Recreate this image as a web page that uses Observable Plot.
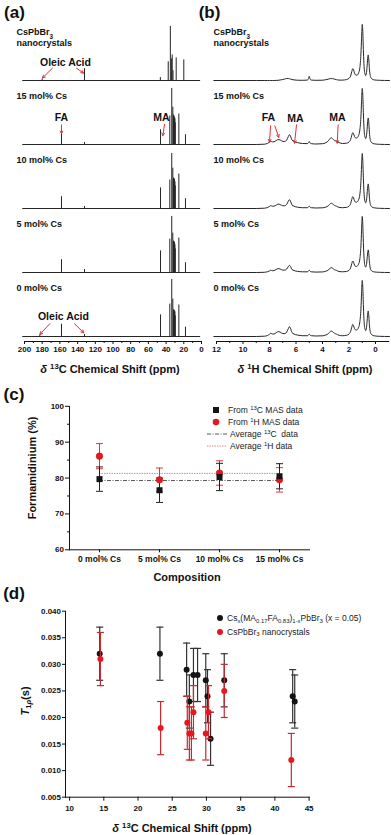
<!DOCTYPE html>
<html><head><meta charset="utf-8">
<script src="https://cdn.jsdelivr.net/npm/d3@7"></script>
<script src="https://cdn.jsdelivr.net/npm/@observablehq/plot@0.6"></script>
<style>
body{margin:0;background:#fff;}
#fig{position:relative;width:391px;height:835px;overflow:hidden;font-family:"Liberation Sans",Arial,Helvetica,sans-serif;color:#111;}
.plotbox{position:absolute;}
.panel{position:absolute;font-weight:bold;font-size:17px;line-height:17px;transform:translate(-50%,-50%);white-space:nowrap;}
.title{position:absolute;font-weight:bold;font-size:11px;line-height:12px;white-space:nowrap;transform:translate(-50%,-50%);}
.title.rot{transform:translate(-50%,-50%) rotate(-90deg);}
.leg{position:absolute;font-size:8.5px;line-height:10px;white-space:nowrap;transform:translateY(-50%);color:#222;}
.sw{position:absolute;overflow:visible;}
sup,sub{font-size:70%;line-height:0;position:relative;vertical-align:baseline;}
sup{top:-0.5em;} sub{top:0.3em;}
</style></head>
<body><div id="fig"></div>
<script>
// ---------------- data: panels (a) and (b) ----------------
const samples = ["CsPbBr3 nanocrystals", "15 mol% Cs", "10 mol% Cs", "5 mol% Cs", "0 mol% Cs"];
const sampleLabels = ["CsPbBr_{3}\nnanocrystals", "15 mol% Cs", "10 mol% Cs", "5 mol% Cs", "0 mol% Cs"];

// 13C spectra: [chemical shift ppm, peak height a.u.]
const c13Range = [202, 1];
const c13Nano = [[180, 1.5], [132.2, 12], [46.5, 3], [37.6, 19], [35.2, 55], [34.0, 22], [33.1, 26], [32.2, 10], [28.6, 23], [20.0, 21]];
const c13Cs15 = [[158.2, 12], [132.2, 2], [46.3, 15], [35.8, 29], [33.6, 57], [32.4, 38], [31.6, 30], [31.2, 29], [30.8, 28], [30.4, 27], [30.0, 26], [29.6, 22], [25.6, 31], [18.1, 10]];
const c13Cs10 = [[158.2, 12], [132.2, 2], [46.3, 21], [35.8, 29], [33.6, 56], [32.4, 41], [31.6, 31], [31.2, 30], [30.8, 30], [30.4, 29], [30.0, 27], [29.6, 23], [25.6, 35], [18.1, 10]];
const c13Cs5 = [[158.2, 13], [132.2, 3], [46.3, 22], [35.8, 34], [33.6, 57], [32.4, 40], [31.6, 32], [31.2, 31], [30.8, 31], [30.4, 30], [30.0, 28], [29.6, 24], [25.6, 35], [18.1, 10]];
const c13Cs0 = [[182.7, 1], [158.2, 12.5], [132.2, 2], [46.3, 22], [35.8, 33], [33.6, 58], [32.4, 38], [31.6, 27], [31.2, 27], [30.8, 26], [30.4, 26], [30.0, 25], [29.6, 21], [25.6, 32], [18.1, 9.5]];
const c13Ticks = [200, 180, 160, 140, 120, 100, 80, 60, 40, 20, 0];
const c13Minor = [190, 170, 150, 130, 110, 90, 70, 50, 30, 10];

// 1H spectra read on a common ppm grid
const h1Grid = [12.2, 9.0, 8.4, 8.15, 8.0, 7.9, 7.78, 7.65, 7.5, 7.35,
  7.2, 7.0, 6.85, 6.7, 6.58, 6.5, 6.42, 6.3, 6.15, 5.9,
  5.5, 5.15, 5.05, 5.0, 4.95, 4.85, 4.5, 4.0, 3.75, 3.55,
  3.42, 3.35, 3.25, 3.1, 2.95, 2.75, 2.5, 2.2, 2.0, 1.88,
  1.79, 1.72, 1.66, 1.58, 1.48, 1.38, 1.28, 1.18, 1.1, 1.05,
  1.0, 0.96, 0.91, 0.86, 0.8, 0.74, 0.68, 0.62, 0.58, 0.55,
  0.51, 0.46, 0.4, 0.33, 0.25, 0.1, -0.3, -1.05];
const h1Nano = [0, 0, 0, 0, 0, 0, 0, 0, 0.1, 0.2,
  0.5, 1.0, 1.5, 2, 2, 1.8, 1.5, 1, 0.6, 0.3,
  0.2, 0.4, 2, 4.3, 2, 0.4, 0.2, 0.3, 0.8, 1.4,
  1.9, 2, 1.9, 1.4, 0.9, 0.4, 0.4, 0.9, 2.2, 4.5,
  9, 12, 11, 7.5, 5.5, 5.5, 7.5, 13, 27, 43,
  57, 50, 29, 14, 7, 5, 8, 17, 24, 26,
  22, 12, 5, 2.5, 1.4, 0.6, 0.2, 0];
const h1Cs15 = [0, 0, 0.3, 1.1, 2.4, 3.3, 2.6, 2.8, 4, 5,
  4.6, 3.2, 3, 4.6, 8, 10, 8.6, 4.5, 3, 2,
  1, 0.9, 1.8, 3, 1.8, 0.9, 0.5, 0.8, 1.8, 3.8,
  6.2, 7, 6, 4, 3.5, 2, 1, 1.3, 2.5, 5,
  9.5, 12, 11, 8, 6.5, 7, 9, 15, 28, 44,
  57, 50, 30, 15, 8, 6, 9, 18, 25, 27,
  23, 12.5, 5, 2.5, 1.5, 0.7, 0.2, 0];
const h1Cs10 = [0, 0, 0.3, 1, 2, 3, 2.3, 2.4, 3.4, 4.5,
  4, 2.8, 2.8, 4.2, 7.5, 9, 7.6, 3.6, 2.3, 1.4,
  0.8, 0.8, 1.6, 2.3, 1.6, 0.8, 0.5, 0.7, 1.4, 2.9,
  4.8, 5.5, 4.8, 3.2, 2.4, 1.1, 0.8, 1.1, 2.4, 4.8,
  9.3, 12, 10.8, 7.8, 6.3, 6.8, 8.8, 14.5, 27.5, 43.5,
  56, 49, 29, 14.5, 7.5, 5.8, 8.5, 17, 23, 25,
  21, 11.5, 4.8, 2.4, 1.4, 0.7, 0.2, 0];
const h1Cs5 = [0, 0, 0.2, 0.8, 1.6, 2.3, 1.8, 2, 3, 4,
  3.6, 2.4, 2.4, 3.5, 6, 7.3, 6.2, 3, 2, 1.2,
  0.7, 0.7, 1.5, 2.3, 1.5, 0.7, 0.4, 0.6, 1.3, 2.6,
  4.4, 5, 4.4, 2.9, 2.2, 1, 0.7, 1, 2.3, 4.6,
  9, 11.7, 10.5, 7.5, 6, 6.5, 8.5, 14, 27, 43,
  57, 49, 28, 14, 7, 5.5, 8, 16, 21, 23,
  19.5, 11, 4.5, 2.2, 1.3, 0.6, 0.2, 0];
const h1Cs0 = [0, 0, 0.3, 1, 2.3, 3.3, 2.5, 2.6, 3.8, 5,
  4.5, 3, 3, 4.5, 8, 10, 8.5, 4, 2.5, 1.5,
  0.8, 0.8, 1.6, 2.3, 1.6, 0.8, 0.5, 0.7, 1.5, 3,
  5, 5.7, 5, 3.3, 2.5, 1.2, 0.8, 1.2, 2.5, 5,
  9.5, 12.3, 11, 8, 6.5, 7, 9, 15, 28, 44,
  57, 50, 30, 15, 8, 6, 9, 18, 24, 26,
  22, 12, 5, 2.5, 1.5, 0.7, 0.2, 0];
const h1Ticks = [12, 10, 8, 6, 4, 2, 0];
const h1Minor = [11, 9, 7, 5, 3, 1];

// annotations (ppm, height a.u.)
const c13Notes = [
  {sample: samples[0], ppm: 153.7, y: 18.6, text: "Oleic Acid"},
  {sample: samples[1], ppm: 158.2, y: 27, text: "FA"},
  {sample: samples[1], ppm: 45.2, y: 27, text: "MA"},
  {sample: samples[4], ppm: 156, y: 20, text: "Oleic Acid"}
];
const c13Arrows = [
  {sample: samples[0], x1: 168.4, y1: 12.5, x2: 179.7, y2: 2.6},
  {sample: samples[0], x1: 141.2, y1: 12.5, x2: 133.3, y2: 7.5},
  {sample: samples[1], x1: 158.2, y1: 20, x2: 158.2, y2: 11},
  {sample: samples[1], x1: 41.8, y1: 20.5, x2: 43.7, y2: 9},
  {sample: samples[4], x1: 171.4, y1: 13, x2: 182.7, y2: 2},
  {sample: samples[4], x1: 143.5, y1: 13, x2: 133, y2: 3.7}
];
const h1Notes = [
  {sample: samples[1], ppm: 8.08, y: 27, text: "FA"},
  {sample: samples[1], ppm: 6.04, y: 26, text: "MA"},
  {sample: samples[1], ppm: 2.87, y: 27, text: "MA"}
];
const h1Arrows = [
  {sample: samples[1], x1: 7.92, y1: 19, x2: 8.0, y2: 2.4},
  {sample: samples[1], x1: 7.6, y1: 19, x2: 7.3, y2: 7.2},
  {sample: samples[1], x1: 5.96, y1: 20, x2: 6.11, y2: 1.3},
  {sample: samples[1], x1: 2.82, y1: 20, x2: 2.89, y2: 1.3}
];

// ---------------- data: panel (c) ----------------
const compositions = ["0 mol% Cs", "5 mol% Cs", "10 mol% Cs", "15 mol% Cs"];
const fa13C = [79.7, 76.6, 80.3, 80.5];
const fa13CErr = [3.4, 3.4, 3.8, 3.5];
const fa1H = [86.1, 79.5, 81.4, 79.5];
const fa1HErr = [3.5, 3.3, 3.4, 3.4];
const avg13C = 79.3;
const avg1H = 81.3;
const faTicks = [60, 70, 80, 90, 100];
const faMinor = [65, 75, 85, 95];

// ---------------- data: panel (d) ----------------
const shiftCsx = [14.4, 23.2, 27.1, 27.5, 28.1, 28.7, 29.9, 30.15, 30.6, 32.6, 42.6, 42.9];
const t1Csx = [0.032, 0.032, 0.029, 0.023, 0.028, 0.028, 0.027, 0.024, 0.016, 0.027, 0.024, 0.023];
const t1CsxErr = [0.005, 0.005, 0.005, 0.005, 0.005, 0.005, 0.005, 0.005, 0.005, 0.005, 0.005, 0.005];
const shiftNano = [14.5, 23.3, 27.2, 27.5, 27.8, 28.1, 29.9, 30.3, 32.6, 42.4];
const t1Nano = [0.031, 0.018, 0.019, 0.017, 0.017, 0.021, 0.017, 0.021, 0.025, 0.012];
const t1NanoErr = [0.005, 0.005, 0.005, 0.005, 0.005, 0.005, 0.005, 0.005, 0.005, 0.005];
const t1Ticks = [0.005, 0.010, 0.015, 0.020, 0.025, 0.030, 0.035, 0.040];
const shiftTicks = [10, 15, 20, 25, 30, 35, 40, 45];

// ---------------- helpers ----------------
const fontFamily = '"Liberation Sans", Arial, Helvetica, sans-serif';
const ink = "#262626";
const red = "#e8161e";
const arrowRed = "#e0303a";
const baseStyle = {fontFamily, fontSize: "8px", fontWeight: "bold", color: "#111", background: "transparent", overflow: "visible"};
const capSymbol = {draw(ctx, size) { const w = Math.sqrt(size / Math.PI); ctx.moveTo(-w, 0); ctx.lineTo(w, 0); }};

function rich(root) {
  const NS = "http://www.w3.org/2000/svg";
  root.querySelectorAll("text").forEach(t => {
    const leaves = t.querySelector("tspan") ? [...t.querySelectorAll("tspan")] : [t];
    for (const el of leaves) {
      const s = el.textContent;
      if (!/[_^]\{/.test(s)) continue;
      el.textContent = "";
      const re = /([_^])\{([^}]*)\}/g; let last = 0, m;
      const add = (str, kind) => {
        const sp = document.createElementNS(NS, "tspan"); sp.textContent = str;
        if (kind) { sp.setAttribute("baseline-shift", kind === "_" ? "sub" : "super"); sp.setAttribute("font-size", "70%"); }
        el.appendChild(sp);
      };
      while ((m = re.exec(s))) { if (m.index > last) add(s.slice(last, m.index)); add(m[2], m[1]); last = re.lastIndex; }
      if (last < s.length) add(s.slice(last));
    }
  });
}

const fig = document.getElementById("fig");
function place(node, left, top) {
  const d = document.createElement("div"); d.className = "plotbox";
  d.style.left = left + "px"; d.style.top = top + "px"; d.appendChild(node); fig.appendChild(d);
  rich(node);
}
function html(cls, x, y, content) {
  const d = document.createElement("div"); d.className = cls;
  d.style.left = x + "px"; d.style.top = y + "px"; d.innerHTML = content; fig.appendChild(d);
}
function swatch(x, y, w, h, inner) {
  const s = document.createElementNS("http://www.w3.org/2000/svg", "svg");
  s.setAttribute("class", "sw"); s.setAttribute("width", w); s.setAttribute("height", h);
  s.setAttribute("viewBox", `${-w / 2} ${-h / 2} ${w} ${h}`);
  s.style.left = (x - w / 2) + "px"; s.style.top = (y - h / 2) + "px"; s.innerHTML = inner; fig.appendChild(s);
}

const rowData = samples.map((s, i) => ({sample: s, label: sampleLabels[i]}));
const c13Rows = [c13Nano, c13Cs15, c13Cs10, c13Cs5, c13Cs0];
const h1Rows = [h1Nano, h1Cs15, h1Cs10, h1Cs5, h1Cs0];
const peakData = samples.flatMap((s, i) => c13Rows[i].map(([ppm, h]) => ({sample: s, ppm, h})));
const h1Data = samples.flatMap((s, i) => h1Grid.map((ppm, j) => ({sample: s, ppm, h: h1Rows[i][j]})));

function stackedCommon(xTicks, xMinor, labelDx) {
  return [
    Plot.text(rowData, {fy: "sample", text: "label", frameAnchor: "top-left", lineAnchor: "top", textAnchor: "start", dx: labelDx, dy: 6, fontSize: 9, lineHeight: 1.22, fill: "#111"}),
    Plot.frame({anchor: "bottom", facetAnchor: "bottom", stroke: "#111", strokeWidth: 1}),
    Plot.axisX({ticks: xTicks, tickSize: 3, tickPadding: 1.5, label: null, fontSize: 8}),
    Plot.axisX({ticks: xMinor, tickSize: 2, tickFormat: () => "", label: null})
  ];
}

// ---------------- panel (a) ----------------
const plotA = Plot.plot({
  width: 205, height: 380, marginLeft: 24, marginRight: 4, marginTop: 20, marginBottom: 38,
  x: {domain: [200, 0], axis: null},
  y: {domain: [0, 60], axis: null, insetBottom: 5},
  fy: {domain: samples, axis: null, padding: 0},
  style: baseStyle,
  marks: [
    Plot.ruleY(rowData, {fy: "sample", y: 0, x1: c13Range[0], x2: c13Range[1], stroke: ink, strokeWidth: 1}),
    Plot.ruleX(peakData, {fy: "sample", x: "ppm", y1: 0, y2: "h", stroke: ink, strokeWidth: 1}),
    ...stackedCommon(c13Ticks, c13Minor, -8),
    Plot.text(c13Notes, {fy: "sample", x: "ppm", y: "y", text: "text", fontSize: 10.5, fill: "#111"}),
    Plot.arrow(c13Arrows, {fy: "sample", x1: "x1", y1: "y1", x2: "x2", y2: "y2", stroke: arrowRed, strokeWidth: 1, headLength: 4.5, headAngle: 55})
  ]
});
place(plotA, 0, 0);

// ---------------- panel (b) ----------------
const plotB = Plot.plot({
  width: 196, height: 380, marginLeft: 21, marginRight: 2.75, marginTop: 20, marginBottom: 38,
  x: {domain: [12, -1], axis: null},
  y: {domain: [0, 60], axis: null, insetBottom: 5},
  fy: {domain: samples, axis: null, padding: 0},
  style: baseStyle,
  marks: [
    Plot.line(h1Data, {fy: "sample", z: "sample", x: "ppm", y: "h", curve: "monotone-x", stroke: ink, strokeWidth: 1}),
    ...stackedCommon(h1Ticks, h1Minor, -3),
    Plot.text(h1Notes, {fy: "sample", x: "ppm", y: "y", text: "text", fontSize: 10.5, fill: "#111"}),
    Plot.arrow(h1Arrows, {fy: "sample", x1: "x1", y1: "y1", x2: "x2", y2: "y2", stroke: arrowRed, strokeWidth: 1, headLength: 4.5, headAngle: 55})
  ]
});
place(plotB, 195, 0);

// ---------------- panel (c) ----------------
const compData = compositions.map((c, i) => ({comp: c, c13: fa13C[i], c13e: fa13CErr[i], h1: fa1H[i], h1e: fa1HErr[i]}));
function errorBars(data, x, y, e, stroke, capR, sw) {
  return [
    Plot.ruleX(data, {x, y1: d => d[y] - d[e], y2: d => d[y] + d[e], stroke, strokeWidth: sw}),
    Plot.dot(data, {x, y: d => d[y] - d[e], symbol: capSymbol, r: capR, stroke, strokeWidth: sw, fill: "none"}),
    Plot.dot(data, {x, y: d => d[y] + d[e], symbol: capSymbol, r: capR, stroke, strokeWidth: sw, fill: "none"})
  ];
}
const plotC = Plot.plot({
  width: 391, height: 205, marginLeft: 69, marginRight: 82, marginTop: 25.8, marginBottom: 35.7,
  x: {type: "point", domain: compositions, padding: 0.5, axis: null},
  y: {domain: [60, 100], axis: null},
  style: baseStyle,
  marks: [
    Plot.frame({anchor: "left", stroke: "#111"}),
    Plot.frame({anchor: "bottom", stroke: "#111"}),
    Plot.axisY({ticks: faTicks, tickSize: 4, tickPadding: 1.5, label: null, fontSize: 8}),
    Plot.axisY({ticks: faMinor, tickSize: 2, tickFormat: () => "", label: null}),
    Plot.axisX({tickSize: 3, tickPadding: 3.5, label: null, fontSize: 8.5}),
    Plot.ruleY([avg13C], {x1: () => compositions[0], x2: () => compositions[3], stroke: "#555", strokeWidth: 1, strokeDasharray: "4,1.5,1,1.5"}),
    Plot.ruleY([avg1H], {x1: () => compositions[0], x2: () => compositions[3], stroke: "#e98484", strokeWidth: 1, strokeDasharray: "1.5,1"}),
    ...errorBars(compData, "comp", "h1", "h1e", "#e0343c", 3.5, 1),
    ...errorBars(compData, "comp", "c13", "c13e", "#222", 3.5, 1),
    Plot.dot(compData, {x: "comp", y: "h1", r: 3.3, fill: red, stroke: "#c81016", strokeWidth: 0.5}),
    Plot.dot(compData, {x: "comp", y: "c13", symbol: "square", r: 3.4, fill: "#141414"})
  ]
});
place(plotC, 0, 380);

// ---------------- panel (d) ----------------
const csxData = shiftCsx.map((s, i) => ({shift: s, t1: t1Csx[i], e: t1CsxErr[i]}));
const nanoData = shiftNano.map((s, i) => ({shift: s, t1: t1Nano[i], e: t1NanoErr[i]}));
const plotD = Plot.plot({
  width: 391, height: 250, marginLeft: 65, marginRight: 82.4, marginTop: 25.7, marginBottom: 38.3,
  x: {domain: [9.4, 45], axis: null},
  y: {domain: [0.005, 0.040], axis: null},
  style: baseStyle,
  marks: [
    Plot.frame({anchor: "left", stroke: "#111"}),
    Plot.frame({anchor: "bottom", stroke: "#111"}),
    Plot.axisY({ticks: t1Ticks, tickSize: 3, tickPadding: 1.5, tickFormat: d3.format(".3f"), label: null, fontSize: 8}),
    Plot.axisX({ticks: shiftTicks, tickSize: 4, tickPadding: 4.5, label: null, fontSize: 8}),
    ...errorBars(csxData, "shift", "t1", "e", "#333", 3.5, 1.2),
    Plot.dot(csxData, {x: "shift", y: "t1", r: 3, fill: "#141414"}),
    ...errorBars(nanoData, "shift", "t1", "e", "#c62a2f", 3.5, 1.2),
    Plot.dot(nanoData, {x: "shift", y: "t1", r: 3, fill: red})
  ]
});
place(plotD, 0, 585);

// ---------------- text overlays ----------------
html("panel", 14.5, 11.5, "(a)");
html("panel", 209.5, 11.5, "(b)");
html("panel", 14, 393.5, "(c)");
html("panel", 14, 592.5, "(d)");
html("title", 110, 369, "<i>δ</i> <sup>13</sup>C Chemical Shift (ppm)");
html("title", 305, 369, "<i>δ</i> <sup>1</sup>H Chemical Shift (ppm)");
html("title", 187, 577, "Composition");
html("title rot", 32, 468, "Formamidinium (%)");
html("title", 182, 828, "<i>δ</i> <sup>13</sup>C Chemical Shift (ppm)");
html("title rot", 25, 701, "<i>T</i><sub>1<i>ρ</i></sub>(s)");

// legend (c)
swatch(216, 410, 8, 8, '<rect x="-3" y="-3" width="6" height="6" fill="#141414"/>');
html("leg", 228, 410, "From <sup>13</sup>C MAS data");
swatch(216, 422.3, 8, 8, `<circle r="3.3" fill="${red}"/>`);
html("leg", 228, 422.3, "From <sup>1</sup>H MAS data");
swatch(217, 433.5, 22, 4, '<line x1="-10" x2="10" stroke="#555" stroke-width="1" stroke-dasharray="4,1.5,1,1.5"/>');
html("leg", 230, 433.5, "Average <sup>13</sup>C&nbsp; data");
swatch(217, 446, 22, 4, '<line x1="-10" x2="10" stroke="#e98484" stroke-width="1" stroke-dasharray="1.5,1"/>');
html("leg", 230, 446, "Average <sup>1</sup>H data");

// legend (d)
swatch(220, 618.3, 8, 8, '<circle r="3" fill="#141414"/>');
html("leg", 227, 618.3, "Cs<sub>x</sub>(MA<sub>0.17</sub>FA<sub>0.83</sub>)<sub>1-x</sub>PbBr<sub>3</sub> (x = 0.05)");
swatch(220, 631.7, 8, 8, `<circle r="3" fill="${red}"/>`);
html("leg", 227, 631.7, "CsPbBr<sub>3</sub> nanocrystals");
</script></body></html>
